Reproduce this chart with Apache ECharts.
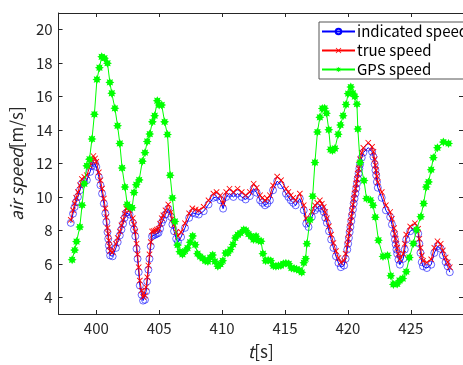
<!DOCTYPE html>
<html>
<head>
<meta charset="utf-8">
<script src="https://cdn.jsdelivr.net/npm/echarts@6.0.0/dist/echarts.min.js"></script>
<style>
  html, body { margin: 0; padding: 0; background: #fff; }
  #chart { width: 463px; height: 365px; }
</style>
</head>
<body>
<div id="chart"></div>
<script>
// time axis of the air data (s)
const tAir = [397.97, 398.15, 398.28, 398.4, 398.54, 398.7, 398.85, 399.05, 399.25, 399.51,
  399.65, 399.77, 399.9, 400.0, 400.2, 400.33, 400.46, 400.6, 400.72, 400.89,
  401.0, 401.1, 401.3, 401.56, 401.7, 401.87, 402.0, 402.13, 402.25, 402.38,
  402.5, 402.64, 402.9, 403.0, 403.1, 403.2, 403.28, 403.37, 403.46, 403.6,
  403.72, 403.87, 403.96, 404.05, 404.14, 404.23, 404.33, 404.43, 404.7, 404.95,
  405.2, 405.33, 405.5, 405.72, 405.95, 406.05, 406.18, 406.35, 406.49, 406.74,
  407.05, 407.38, 407.64, 407.9, 408.15, 408.54, 408.92, 409.31, 409.56, 409.87,
  410.08, 410.33, 410.59, 410.9, 411.23, 411.56, 411.87, 412.2, 412.51, 412.75,
  413.02, 413.41, 413.8, 414.05, 414.38, 414.69, 415.08, 415.46, 415.85, 416.18,
  416.49, 416.69, 416.87, 417.13, 417.38, 417.77, 418.08, 418.33, 418.5, 418.67,
  418.85, 419.05, 419.25, 419.44, 419.7, 419.95, 420.08, 420.2, 420.33, 420.46,
  420.6, 420.72, 420.85, 420.97, 421.23, 421.62, 421.92, 422.13, 422.25, 422.38,
  422.69, 423.02, 423.36, 423.67, 423.8, 423.92, 424.13, 424.4, 424.64, 424.95,
  425.33, 425.59, 425.68, 425.77, 425.97, 426.28, 426.62, 426.87, 427.12, 427.38,
  427.77, 428.1];

const indicatedSpeed = [8.45, 9.0, 9.4, 9.7, 10.0, 10.4, 10.8, 10.9, 11.0, 11.5,
  11.85, 12.1, 12.0, 11.8, 11.2, 10.7, 10.2, 9.6, 9.0, 7.9,
  7.1, 6.5, 6.45, 6.95, 7.3, 7.7, 8.05, 8.4, 8.75, 9.05,
  9.1, 8.95, 8.45, 8.05, 7.65, 6.9, 6.3, 5.5, 4.7, 4.15,
  3.8, 3.85, 4.35, 4.95, 5.65, 6.3, 7.05, 7.65, 7.75, 7.85,
  8.45, 8.65, 8.95, 9.3, 8.8, 8.35, 7.95, 7.5, 7.3, 7.6,
  8.15, 8.75, 9.05, 9.0, 8.95, 9.15, 9.55, 9.95, 10.0, 9.8,
  9.3, 10.0, 10.2, 10.0, 10.2, 10.0, 9.85, 10.05, 10.5, 10.25,
  9.8, 9.5, 9.8, 10.4, 10.95, 10.7, 10.2, 9.8, 9.5, 9.9,
  9.2, 8.4, 8.2, 8.8, 9.2, 9.5, 9.1, 8.45, 7.95, 7.45,
  6.95, 6.45, 6.05, 5.8, 5.9, 6.85, 7.55, 8.2, 8.9, 9.6,
  10.2, 10.8, 11.4, 11.95, 12.65, 12.95, 12.7, 11.95, 11.3, 10.55,
  9.95, 9.2, 8.8, 7.8, 7.15, 6.6, 5.95, 6.3, 7.45, 7.95,
  8.15, 7.8, 7.2, 6.65, 5.85, 5.75, 5.95, 6.65, 7.05, 6.9,
  6.1, 5.5];

const trueSpeed = [8.63, 9.2, 9.61, 9.95, 10.29, 10.7, 11.08, 11.2, 11.3, 11.86,
  12.2, 12.45, 12.3, 12.1, 11.47, 11.0, 10.5, 9.9, 9.32, 8.14,
  7.4, 6.76, 6.7, 7.2, 7.55, 7.94, 8.3, 8.63, 9.0, 9.32,
  9.35, 9.2, 8.73, 8.35, 7.94, 7.2, 6.57, 5.8, 5.0, 4.4,
  4.02, 4.1, 4.6, 5.2, 5.9, 6.57, 7.3, 7.94, 8.0, 8.1,
  8.73, 8.9, 9.2, 9.55, 9.1, 8.7, 8.33, 7.9, 7.65, 7.9,
  8.43, 9.02, 9.32, 9.25, 9.2, 9.41, 9.8, 10.2, 10.29, 10.1,
  9.61, 10.29, 10.49, 10.29, 10.49, 10.29, 10.1, 10.3, 10.79, 10.55,
  10.1, 9.8, 10.1, 10.69, 11.22, 11.0, 10.49, 10.1, 9.8, 10.2,
  9.51, 8.73, 8.53, 9.12, 9.5, 9.8, 9.4, 8.73, 8.25, 7.75,
  7.25, 6.76, 6.35, 6.08, 6.2, 7.16, 7.85, 8.53, 9.2, 9.9,
  10.5, 11.08, 11.7, 12.26, 12.94, 13.24, 13.0, 12.26, 11.6, 10.88,
  10.29, 9.51, 9.1, 8.14, 7.5, 6.96, 6.27, 6.6, 7.75, 8.24,
  8.43, 8.1, 7.5, 6.96, 6.18, 6.08, 6.27, 6.96, 7.35, 7.2,
  6.38, 5.8];

// more readings taken on the steep stretches of the air curves
const tAirExtra = [400.8, 400.95, 401.05, 404.55, 404.82, 405.07, 413.2, 413.6, 415.27, 415.65,
  417.57, 417.93, 418.2, 419.82, 420.02, 420.14, 420.27, 420.4, 420.53, 420.66,
  420.78, 420.91, 421.1, 422.03, 422.19, 422.31, 423.5, 423.74, 423.86, 424.02,
  424.52, 425.87, 427.55, 427.93];
const trueExtra = [8.8, 7.8, 7.05, 7.97, 8.05, 8.4, 9.95, 9.9, 10.3, 9.95,
  9.65, 9.6, 9.1, 6.6, 7.5, 8.2, 8.85, 9.55, 10.2, 10.8,
  11.4, 12.0, 12.65, 12.7, 11.9, 11.25, 8.7, 7.8, 7.2, 6.6,
  7.2, 6.5, 6.8, 6.1];
const indicatedExtra = [8.5, 7.5, 6.8, 7.7, 7.8, 8.1, 9.65, 9.6, 10.0, 9.65,
  9.35, 9.3, 8.75, 6.3, 7.2, 7.9, 8.55, 9.25, 9.9, 10.5,
  11.1, 11.7, 12.35, 12.4, 11.6, 10.9, 8.35, 7.45, 6.85, 6.25,
  6.85, 6.1, 6.5, 5.85];

// GPS samples (about 5 Hz)
const tGps = [398.08, 398.28, 398.43, 398.69, 398.87, 399.05, 399.25, 399.46, 399.66, 399.85,
  400.05, 400.25, 400.43, 400.65, 400.89, 401.08, 401.23, 401.48, 401.69, 401.87,
  402.05, 402.28, 402.46, 402.64, 402.85, 403.0, 403.18, 403.41, 403.66, 403.87,
  404.05, 404.25, 404.46, 404.64, 404.85, 405.0, 405.2, 405.43, 405.66, 405.87,
  406.05, 406.25, 406.46, 406.64, 406.85, 407.05, 407.25, 407.46, 407.66, 407.87,
  408.05, 408.25, 408.46, 408.66, 408.87, 409.05, 409.25, 409.43, 409.66, 409.87,
  410.05, 410.28, 410.46, 410.66, 410.87, 411.05, 411.25, 411.46, 411.72, 411.9,
  412.1, 412.3, 412.5, 412.7, 412.9, 413.1, 413.25, 413.46, 413.66, 413.87,
  414.08, 414.28, 414.48, 414.67, 414.87, 415.07, 415.3, 415.51, 415.72, 415.92,
  416.12, 416.33, 416.5, 416.64, 416.74, 416.99, 417.2, 417.38, 417.58, 417.77,
  417.97, 418.15, 418.3, 418.48, 418.62, 418.77, 418.97, 419.23, 419.41, 419.62,
  419.85, 420.02, 420.23, 420.4, 420.55, 420.72, 420.79, 420.97, 421.28, 421.48,
  421.8, 422.0, 422.18, 422.43, 422.79, 423.15, 423.41, 423.62, 423.92, 424.1,
  424.36, 424.64, 424.89, 425.2, 425.46, 425.79, 426.02, 426.23, 426.41, 426.62,
  426.79, 427.12, 427.59, 428.0];

const gpsSpeed = [6.24, 6.82, 7.33, 8.2, 9.51, 10.79, 11.86, 12.26, 13.47, 14.94,
  17.02, 17.73, 18.38, 18.3, 18.0, 16.85, 16.2, 15.3, 14.26, 13.2,
  11.73, 10.59, 9.55, 9.4, 9.35, 10.26, 10.73, 11.02, 12.14, 12.65,
  13.32, 13.76, 14.49, 14.86, 15.75, 15.5, 15.5, 14.49, 13.73, 11.3,
  9.94, 8.53, 7.12, 6.73, 6.57, 6.76, 6.95, 7.29, 7.67, 7.14,
  6.61, 6.43, 6.33, 6.18, 6.14, 6.37, 6.53, 6.14, 5.86, 5.98,
  6.18, 6.65, 6.65, 6.86, 7.16, 7.55, 7.74, 7.84, 8.04, 8.0,
  7.78, 7.65, 7.45, 7.65, 7.39, 7.35, 6.61, 6.18, 6.22, 6.18,
  5.88, 5.85, 5.88, 5.9, 6.0, 6.03, 6.0, 5.75, 5.72, 5.68,
  5.62, 5.49, 6.06, 6.3, 7.2, 8.63, 10.04, 12.06, 13.88, 14.76,
  15.29, 15.3, 15.0, 14.02, 12.84, 12.77, 12.9, 13.75, 14.3, 14.86,
  15.53, 16.18, 16.57, 16.2, 16.0, 15.55, 14.06, 12.06, 10.98, 9.9,
  9.8, 9.5, 8.79, 7.41, 6.44, 6.5, 5.29, 4.77, 4.8, 5.0,
  5.12, 5.53, 6.38, 7.22, 8.04, 8.82, 9.61, 10.59, 10.9, 11.63,
  12.35, 12.94, 13.28, 13.2];

const xTicks = [400, 405, 410, 415, 420, 425];
const yTicks = [4, 6, 8, 10, 12, 14, 16, 18, 20];

const zip = (xs, ys) => xs.map((x, i) => [x, ys[i]]);
const merged = (xs, ys, xs2, ys2) => zip(xs, ys).concat(zip(xs2, ys2)).sort((a, b) => a[0] - b[0]);

const FONT = "'Noto Sans CJK JP', 'Liberation Sans', sans-serif";
const TXT = "#262626";
const X_MIN = 397, X_MAX = 429.15, Y_MIN = 3, Y_MAX = 21;

// marker shapes like matlab's 'x' and '*'
const crossPath = "path://M-1,-0.8L-0.8,-1L0,-0.2L0.8,-1L1,-0.8L0.2,0L1,0.8L0.8,1L0,0.2L-0.8,1L-1,0.8L-0.2,0Z";
const starPath = "path://M1,0L0.55,0.23L0.707,0.707L0.23,0.55L0,1L-0.23,0.55L-0.707,0.707L-0.55,0.23" +
  "L-1,0L-0.55,-0.23L-0.707,-0.707L-0.23,-0.55L0,-1L0.23,-0.55L0.707,-0.707L0.55,-0.23Z";

function boxAxis(extra) {
  return Object.assign({
    type: "value",
    axisLine: { show: true, onZero: false, lineStyle: { color: TXT, width: 1 } },
    axisTick: { show: true, inside: true, length: 4, lineStyle: { color: TXT } },
    splitLine: { show: false },
    axisLabel: { show: false },
  }, extra);
}

const chart = echarts.init(document.getElementById("chart"), null, { renderer: "canvas" });

const options = {
  animation: false,
  backgroundColor: "#fff",
  grid: { left: 57, right: -12, top: 13, bottom: 45, containLabel: false },
  xAxis: [
    boxAxis({
      min: X_MIN, max: X_MAX, position: "bottom",
      axisTick: { show: true, inside: true, length: 4, customValues: xTicks, lineStyle: { color: TXT } },
      axisLabel: { show: true, customValues: xTicks, margin: 7, color: TXT, fontSize: 15, fontFamily: FONT },
      name: "{i|t}{n|[s]}",
      nameLocation: "middle",
      nameGap: 29,
      nameTextStyle: {
        rich: {
          i: { fontStyle: "italic", fontSize: 17, fontFamily: FONT, color: TXT },
          n: { fontSize: 17, fontFamily: FONT, color: TXT },
        },
      },
    }),
    boxAxis({
      min: X_MIN, max: X_MAX, position: "top",
      axisTick: { show: true, inside: true, length: 4, customValues: xTicks, lineStyle: { color: TXT } },
    }),
  ],
  yAxis: [
    boxAxis({
      min: Y_MIN, max: Y_MAX, position: "left",
      axisTick: { show: true, inside: true, length: 4, customValues: yTicks, lineStyle: { color: TXT } },
      axisLabel: { show: true, customValues: yTicks, margin: 6, color: TXT, fontSize: 15, fontFamily: FONT },
      name: "{i|air speed}{n|[m/s]}",
      nameLocation: "middle",
      nameGap: 23,
      nameRotate: 90,
      nameTextStyle: {
        rich: {
          i: { fontStyle: "italic", fontSize: 17, fontFamily: FONT, color: TXT },
          n: { fontSize: 17, fontFamily: FONT, color: TXT },
        },
      },
    }),
    boxAxis({
      min: Y_MIN, max: Y_MAX, position: "right",
      axisTick: { show: true, inside: true, length: 4, customValues: yTicks, lineStyle: { color: TXT } },
    }),
  ],
  legend: {
    left: 319,
    top: 22,
    orient: "vertical",
    itemWidth: 33,
    itemHeight: 7,
    itemGap: 4,
    padding: [2, 4, 2, 2],
    backgroundColor: "#fff",
    borderColor: "#555",
    borderWidth: 1,
    textStyle: { fontSize: 15, fontFamily: FONT, color: "#000", padding: [0, 0, 0, -3] },
    data: ["indicated speed", "true speed", "GPS speed"],
  },
  series: [
    {
      name: "indicated speed",
      type: "line",
      z: 2,
      data: merged(tAir, indicatedSpeed, tAirExtra, indicatedExtra),
      showSymbol: true,
      showAllSymbol: true,
      symbol: "circle",
      symbolSize: 7,
      lineStyle: { color: "#0000ff", width: 1 },
      itemStyle: { color: "rgba(0,0,0,0)", borderColor: "#0000ff", borderWidth: 0.6 },
    },
    {
      name: "true speed",
      type: "line",
      z: 3,
      data: merged(tAir, trueSpeed, tAirExtra, trueExtra),
      showSymbol: true,
      showAllSymbol: true,
      symbol: crossPath,
      symbolSize: 6,
      lineStyle: { color: "#ff0000", width: 1 },
      itemStyle: { color: "#ff0000" },
    },
    {
      name: "GPS speed",
      type: "line",
      z: 4,
      data: zip(tGps, gpsSpeed),
      showSymbol: true,
      showAllSymbol: true,
      symbol: starPath,
      symbolSize: 9,
      lineStyle: { color: "#00ff00", width: 1 },
      itemStyle: { color: "#00ff00" },
    },
  ],
};

chart.setOption(options);
</script>
</body>
</html>
